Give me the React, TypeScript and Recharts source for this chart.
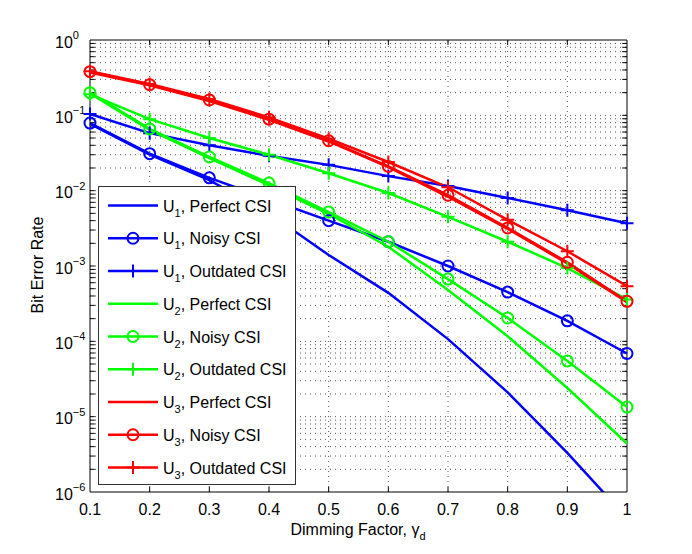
import React from "react";
import { LineChart, Line, XAxis, YAxis, ReferenceLine } from "recharts";

const dimming = [0.1, 0.2, 0.3, 0.4, 0.5, 0.6, 0.7, 0.8, 0.9, 1.0];

const u1Perfect = [0.077, 0.030, 0.0138, 0.005, 0.0014, 0.00044, 1.07e-4, 2.1e-5, 3.3e-6, 4.5e-7];
const u1Noisy = [0.079, 0.031, 0.0148, 0.0077, 0.004, 0.0021, 0.001, 0.00045, 0.000187, 0.000069];
const u1Outdated = [0.104, 0.058, 0.04, 0.029, 0.022, 0.0156, 0.0115, 0.008, 0.0055, 0.0037];
const u2Perfect = [0.195, 0.064, 0.027, 0.0118, 0.0049, 0.0018, 0.00048, 0.000117, 0.000024, 0.0000044];
const u2Noisy = [0.2, 0.066, 0.028, 0.0126, 0.0052, 0.0021, 0.00067, 0.000204, 0.000055, 0.0000134];
const u2Outdated = [0.19, 0.089, 0.05, 0.03, 0.017, 0.0093, 0.0045, 0.0021, 0.00094, 0.00036];
const u3Perfect = [0.37, 0.25, 0.155, 0.087, 0.045, 0.0205, 0.0083, 0.0031, 0.00108, 0.00033];
const u3Noisy = [0.38, 0.255, 0.16, 0.089, 0.046, 0.021, 0.0087, 0.0032, 0.00112, 0.00034];
const u3Outdated = [0.385, 0.26, 0.165, 0.094, 0.049, 0.024, 0.0111, 0.0041, 0.00157, 0.00054];

const xTicks = [0.1, 0.2, 0.3, 0.4, 0.5, 0.6, 0.7, 0.8, 0.9, 1];
const yTicks = [1e-6, 1e-5, 1e-4, 1e-3, 1e-2, 1e-1, 1];
const minorMult = [2, 3, 4, 5, 6, 7, 8, 9];

const BLUE = "#0000ff";
const GREEN = "#00ff00";
const RED = "#ff0000";
const FONT = "'Liberation Sans', Arial, sans-serif";
const GRID = "#555";

const series = [
  { key: "u1p", user: "1", label: "Perfect CSI", color: BLUE, marker: "none", values: u1Perfect },
  { key: "u1n", user: "1", label: "Noisy CSI", color: BLUE, marker: "circle", values: u1Noisy },
  { key: "u1o", user: "1", label: "Outdated CSI", color: BLUE, marker: "plus", values: u1Outdated },
  { key: "u2p", user: "2", label: "Perfect CSI", color: GREEN, marker: "none", values: u2Perfect },
  { key: "u2n", user: "2", label: "Noisy CSI", color: GREEN, marker: "circle", values: u2Noisy },
  { key: "u2o", user: "2", label: "Outdated CSI", color: GREEN, marker: "plus", values: u2Outdated },
  { key: "u3p", user: "3", label: "Perfect CSI", color: RED, marker: "none", values: u3Perfect },
  { key: "u3n", user: "3", label: "Noisy CSI", color: RED, marker: "circle", values: u3Noisy },
  { key: "u3o", user: "3", label: "Outdated CSI", color: RED, marker: "plus", values: u3Outdated },
];

const data = dimming.map((x, i) => {
  const row: Record<string, number> = { x };
  series.forEach((s) => (row[s.key] = s.values[i]));
  return row;
});

const minorY = yTicks.slice(0, -1).flatMap((d) => minorMult.map((m) => d * m));
const allY = [...minorY, ...yTicks.slice(1, -1)];

// tick marks drawn inward, like matlab (length in data units: ~5px)
const X_TICK = 0.008;
const Y_TICK = 1.17;

const plusDot = (color: string) => (p: any) =>
  p.cx == null ? null : (
    <path
      key={`p-${p.index}`}
      d={`M${p.cx - 6.5},${p.cy}h13M${p.cx},${p.cy - 6.5}v13`}
      stroke={color}
      strokeWidth={2}
      fill="none"
    />
  );

const YTick = (props: any) => {
  const { y, payload } = props;
  const exp = Math.round(Math.log10(payload.value));
  return (
    <text x={55} y={y + 7.5} fontSize={16} fontFamily={FONT} fill="#000">
      10
      <tspan dy={-8.5} fontSize={11}>
        {exp === 0 ? "0" : `\u2212${-exp}`}
      </tspan>
    </text>
  );
};

const XTick = (props: any) => {
  const { x, payload } = props;
  return (
    <text x={x} y={515} textAnchor="middle" fontSize={16} fontFamily={FONT} fill="#000">
      {String(payload.value)}
    </text>
  );
};

const LegendBox = () => (
  <svg
    width={199}
    height={300}
    style={{ position: "absolute", left: 98, top: 186, display: "block" }}
  >
    <rect x={0.5} y={0.5} width={197} height={298} fill="#fff" stroke="#333" strokeWidth={1} />
    {series.map((s, i) => {
      const cy = 19.5 + i * 32.75;
      return (
        <g key={s.key}>
          <line x1={10} x2={60} y1={cy} y2={cy} stroke={s.color} strokeWidth={2.5} />
          {s.marker === "circle" && <circle cx={35} cy={cy} r={5.5} fill="none" stroke={s.color} strokeWidth={2} />}
          {s.marker === "plus" && (
            <path d={`M28.5,${cy}h13M35,${cy - 6.5}v13`} stroke={s.color} strokeWidth={2} />
          )}
          <text x={65} y={cy + 6} fontSize={16} fontFamily={FONT} fill="#000">
            U
            <tspan dy={5} fontSize={11}>
              {s.user}
            </tspan>
            <tspan dy={-5}>, {s.label}</tspan>
          </text>
        </g>
      );
    })}
  </svg>
);

export default function App() {
  return (
    <div style={{ position: "absolute", left: 0, top: 0, width: 692, height: 554, background: "#fff" }}>
      <LineChart
        width={692}
        height={554}
        data={data}
        margin={{ top: 40, right: 65, left: 40, bottom: 22 }}
      >
        <XAxis
          dataKey="x"
          type="number"
          domain={[0.1, 1]}
          ticks={xTicks}
          tick={<XTick />}
          tickLine={false}
          axisLine={{ stroke: "#000" }}
          height={40}
          interval={0}
        />
        <YAxis
          yAxisId="main"
          scale="log"
          type="number"
          domain={[1e-6, 1]}
          ticks={yTicks}
          tick={<YTick />}
          tickLine={false}
          axisLine={{ stroke: "#000" }}
          width={50}
          interval={0}
        />
        <YAxis
          yAxisId="clip"
          orientation="right"
          scale="log"
          type="number"
          domain={[1e-6, 1]}
          allowDataOverflow
          hide
          width={0}
        />
        {allY.map((v) => (
          <ReferenceLine key={`gy${v}`} yAxisId="main" y={v} stroke={GRID} strokeDasharray="1 4" />
        ))}
        {xTicks.slice(1, -1).map((v) => (
          <ReferenceLine key={`gx${v}`} yAxisId="main" x={v} stroke={GRID} strokeDasharray="1 4" />
        ))}
        {allY.map((v) => (
          <ReferenceLine
            key={`tl${v}`}
            yAxisId="main"
            segment={[{ x: 0.1, y: v }, { x: 0.1 + X_TICK, y: v }]}
            stroke="#000"
          />
        ))}
        {allY.map((v) => (
          <ReferenceLine
            key={`tr${v}`}
            yAxisId="main"
            segment={[{ x: 1 - X_TICK, y: v }, { x: 1, y: v }]}
            stroke="#000"
          />
        ))}
        {xTicks.slice(1, -1).map((v) => (
          <ReferenceLine
            key={`tb${v}`}
            yAxisId="main"
            segment={[{ x: v, y: 1e-6 }, { x: v, y: 1e-6 * Y_TICK }]}
            stroke="#000"
          />
        ))}
        {xTicks.slice(1, -1).map((v) => (
          <ReferenceLine
            key={`tt${v}`}
            yAxisId="main"
            segment={[{ x: v, y: 1 / Y_TICK }, { x: v, y: 1 }]}
            stroke="#000"
          />
        ))}
        <ReferenceLine yAxisId="main" y={1} stroke="#000" />
        <ReferenceLine yAxisId="main" x={1} stroke="#000" />
        {series.map((s) => (
          <Line
            key={s.key}
            yAxisId={s.key === "u1p" ? "clip" : "main"}
            dataKey={s.key}
            stroke={s.color}
            strokeWidth={2.5}
            isAnimationActive={false}
            dot={
              s.marker === "circle"
                ? { r: 5.5, fill: "none", stroke: s.color, strokeWidth: 2 }
                : s.marker === "plus"
                ? plusDot(s.color)
                : false
            }
            activeDot={false}
          />
        ))}
        <text x={37} y={265} transform="rotate(-90 37 265)" textAnchor="middle" dominantBaseline="central" fontSize={16} fontFamily={FONT} fill="#000">
          Bit Error Rate
        </text>
        <text x={358} y={535} textAnchor="middle" fontSize={16} fontFamily={FONT} fill="#000">
          Dimming Factor, {"\u03b3"}
          <tspan dy={5} fontSize={11}>d</tspan>
        </text>
      </LineChart>
      <LegendBox />
    </div>
  );
}
